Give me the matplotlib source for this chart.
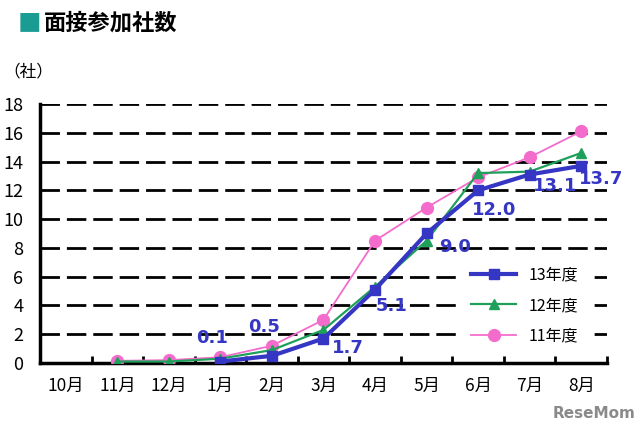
import matplotlib
matplotlib.use("Agg")
import matplotlib.pyplot as plt
import numpy as np

plt.rcParams['font.family'] = ['Noto Sans CJK JP', 'DejaVu Sans']

months = ['10月', '11月', '12月', '1月', '2月', '3月', '4月', '5月', '6月', '7月', '8月']
fy13 = [None, None, None, 0.1, 0.5, 1.7, 5.1, 9.0, 12.0, 13.1, 13.7]
fy12 = [None, 0.1, 0.1, 0.3, 0.9, 2.3, 5.3, 8.5, 13.2, 13.3, 14.6]
fy11 = [None, 0.15, 0.2, 0.4, 1.2, 3.0, 8.5, 10.8, 12.9, 14.3, 16.1]
labels13 = ['0.1', '0.5', '1.7', '5.1', '9.0', '12.0', '13.1', '13.7']
# label offsets in pixels (dx, dy) for 1月..8月
label_offsets = [(-8, 24), (-8, 29), (24, -9), (17, -16), (28, -14), (16, -20), (25, -11), (20, -13)]

blue = '#3636c4'
green = '#1ea05a'
pink = '#f46ccb'

fig = plt.figure(figsize=(6.4, 4.24), dpi=100)
ax = fig.add_axes([0.0625, 0.1439, 0.8859, 0.6108])

x = np.arange(len(months))

def arr(v):
    return np.array([np.nan if a is None else a for a in v], dtype=float)

for yv in range(2, 19, 2):
    ax.axhline(yv, color='black', lw=2, ls=(0, (7, 2.5)), zorder=1)

ax.plot(x, arr(fy11), color=pink, lw=1.3, marker='o', ms=8.5, label='11年度', zorder=3)
ax.plot(x, arr(fy12), color=green, lw=1.6, marker='^', ms=7.5, label='12年度', zorder=4)
ax.plot(x, arr(fy13), color=blue, lw=3, marker='s', ms=7, label='13年度', zorder=5)

vals13 = arr(fy13)
idx = [i for i in range(len(months)) if not np.isnan(vals13[i])]
for i, lab, (dx, dy) in zip(idx, labels13, label_offsets):
    ax.annotate(lab, (x[i], vals13[i]), xytext=(dx, dy), textcoords='offset pixels',
                ha='center', va='center', color=blue, fontsize=13, fontweight='bold',
                family=['DejaVu Sans'], zorder=6)

ax.set_xlim(-0.5, 10.5)
ax.set_ylim(0, 18)
ax.set_yticks(range(0, 19, 2))
ax.set_xticks(x)
ax.set_xticklabels(months, fontsize=12.5)
ax.set_xticks(np.arange(0.5, 10.6, 1), minor=True)
ax.tick_params(axis='x', which='major', length=0, pad=10)
ax.tick_params(axis='x', which='minor', direction='in', length=5, width=2)
ax.tick_params(axis='y', length=0, pad=12, labelsize=13)
for s in ['top', 'right']:
    ax.spines[s].set_visible(False)
ax.spines['left'].set_linewidth(2.5)
ax.spines['bottom'].set_linewidth(2.5)

handles, labs = ax.get_legend_handles_labels()
leg = ax.legend(handles[::-1], labs[::-1], loc='center', bbox_to_anchor=(0.855, 0.222),
                frameon=True, facecolor='white', edgecolor='none', framealpha=1,
                fontsize=11.5, labelspacing=0.85, handlelength=2.8, borderpad=0.6)
leg.set_zorder(7)

fig.text(0.027, 0.945, '■', color='#1a9c92', fontsize=17, va='center')
fig.text(0.068, 0.945, '面接参加社数', fontsize=16, fontweight='bold', va='center')
fig.text(0.005, 0.83, '（社）', fontsize=12, va='center')
fig.text(0.993, 0.008, 'ReseMom', color='#8a8a8a', fontsize=11, fontweight='bold',
          ha='right', va='bottom', family=['DejaVu Sans'])

fig.savefig('out.png', dpi=100)
